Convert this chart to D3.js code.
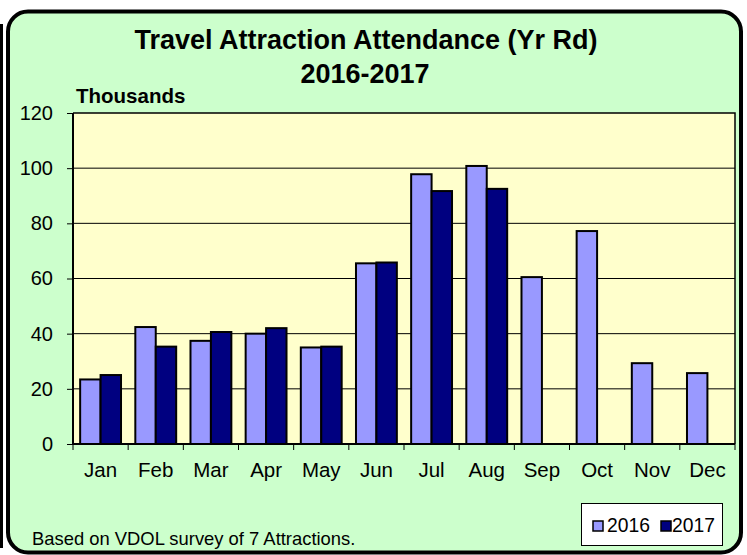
<!DOCTYPE html>
<html>
<head>
<meta charset="utf-8">
<script src="https://cdn.jsdelivr.net/npm/d3@7"></script>
<style>
  html, body { margin: 0; padding: 0; background: #fff; }
  svg { display: block; font-family: "Liberation Sans", Arial, sans-serif; }
</style>
</head>
<body>
<svg id="chart" width="747" height="555"></svg>
<script>
// Monthly attendance, thousands of visitors
const months = ["Jan", "Feb", "Mar", "Apr", "May", "Jun", "Jul", "Aug", "Sep", "Oct", "Nov", "Dec"];
const seriesNames = ["2016", "2017"];
const values2016 = [23.4, 42.4, 37.4, 40.0, 35.0, 65.5, 97.8, 100.8, 60.5, 77.2, 29.3, 25.7];
const values2017 = [25.0, 35.3, 40.6, 42.0, 35.3, 65.8, 91.7, 92.5, null, null, null, null];
const yTicks = [0, 20, 40, 60, 80, 100, 120];
const seriesColors = ["#9999FF", "#000080"];

const svg = d3.select("#chart");

// Left edge of a neighbouring frame
svg.append("path")
  .attr("d", "M1.5,24 L1.5,548")
  .attr("stroke", "#000").attr("stroke-width", 3).attr("fill", "none");

// Rounded chart frame
svg.append("rect")
  .attr("x", 8).attr("y", 11.5).attr("width", 733).attr("height", 541)
  .attr("rx", 20).attr("ry", 20)
  .attr("fill", "#CCFFCC").attr("stroke", "#000").attr("stroke-width", 4);

// Title
svg.append("text")
  .attr("x", 366).attr("y", 49)
  .attr("text-anchor", "middle")
  .attr("font-weight", "bold").attr("font-size", 27)
  .text("Travel Attraction Attendance (Yr Rd)");
svg.append("text")
  .attr("x", 365).attr("y", 82.5)
  .attr("text-anchor", "middle")
  .attr("font-weight", "bold").attr("font-size", 27)
  .text("2016-2017");

// Unit label
svg.append("text")
  .attr("x", 76).attr("y", 103)
  .attr("font-weight", "bold").attr("font-size", 20.5)
  .text("Thousands");

const plot = { left: 73, right: 735, top: 113, bottom: 444 };

const x0 = d3.scaleBand().domain(months).range([plot.left, plot.right]).padding(0);
const x1 = d3.scaleBand().domain(seriesNames).range([0, x0.bandwidth()])
  .paddingInner(0).paddingOuter(0.35);
const y = d3.scaleLinear().domain([0, 120]).range([plot.bottom, plot.top]);

// Plot area background
svg.append("rect")
  .attr("x", plot.left).attr("y", plot.top)
  .attr("width", plot.right - plot.left).attr("height", plot.bottom - plot.top)
  .attr("fill", "#FFFFCC");

// Horizontal gridlines
svg.append("g")
  .selectAll("line")
  .data(yTicks.filter(d => d > 0 && d < 120))
  .join("line")
  .attr("x1", plot.left).attr("x2", plot.right)
  .attr("y1", d => y(d)).attr("y2", d => y(d))
  .attr("stroke", "#000").attr("stroke-width", 1);

// Plot area border (top and right)
svg.append("path")
  .attr("d", `M${plot.left},${plot.top}H${plot.right}V${plot.bottom}`)
  .attr("fill", "none").attr("stroke", "#000").attr("stroke-width", 1.5);

// Bars
const rows = months.map((m, i) => ({ month: m, vals: [values2016[i], values2017[i]] }));
const groups = svg.append("g").selectAll("g")
  .data(rows).join("g")
  .attr("transform", d => `translate(${x0(d.month)},0)`);
groups.selectAll("rect")
  .data(d => d.vals.map((v, k) => ({ key: seriesNames[k], value: v, k })).filter(d => d.value != null))
  .join("rect")
  .attr("x", d => x1(d.key))
  .attr("width", x1.bandwidth())
  .attr("y", d => y(d.value))
  .attr("height", d => y(0) - y(d.value))
  .attr("fill", d => seriesColors[d.k])
  .attr("stroke", "#000").attr("stroke-width", 2);

// Y axis
const yAxis = svg.append("g")
  .attr("transform", `translate(${plot.left},0)`)
  .call(d3.axisLeft(y).tickValues(yTicks).tickSize(6).tickPadding(14).tickFormat(d3.format("d")));
yAxis.select(".domain").attr("stroke", "#000").attr("stroke-width", 2)
  .attr("d", `M0,${plot.top}V${plot.bottom}`);
yAxis.selectAll(".tick line").attr("stroke", "#000").attr("stroke-width", 1);
yAxis.selectAll(".tick text")
  .attr("font-size", 20).attr("fill", "#000")
  .attr("font-family", "\"Liberation Sans\", Arial, sans-serif");

// X axis: ticks at month boundaries, labels centred in each band
const xAxisG = svg.append("g");
xAxisG.append("line")
  .attr("x1", plot.left).attr("x2", plot.right)
  .attr("y1", plot.bottom).attr("y2", plot.bottom)
  .attr("stroke", "#000").attr("stroke-width", 2);
const boundaries = months.map(m => x0(m)).concat([plot.right]);
xAxisG.selectAll("line.tick")
  .data(boundaries).join("line")
  .attr("class", "tick")
  .attr("x1", d => d).attr("x2", d => d)
  .attr("y1", plot.bottom).attr("y2", plot.bottom + 6)
  .attr("stroke", "#000").attr("stroke-width", 1);
xAxisG.selectAll("text")
  .data(months).join("text")
  .attr("x", d => x0(d) + x0.bandwidth() / 2)
  .attr("y", 477)
  .attr("text-anchor", "middle")
  .attr("font-size", 20.5)
  .text(d => d);

// Footnote
svg.append("text")
  .attr("x", 32).attr("y", 545)
  .attr("font-size", 18.4)
  .text("Based on VDOL survey of 7 Attractions.");

// Legend
const legend = svg.append("g");
legend.append("rect")
  .attr("x", 581.5).attr("y", 503.5).attr("width", 141).attr("height", 42)
  .attr("fill", "#fff").attr("stroke", "#000").attr("stroke-width", 1);
const legendItems = [
  { name: seriesNames[0], color: seriesColors[0], sx: 593, tx: 607 },
  { name: seriesNames[1], color: seriesColors[1], sx: 661, tx: 672 }
];
legend.selectAll("rect.sw")
  .data(legendItems).join("rect")
  .attr("class", "sw")
  .attr("x", d => d.sx).attr("y", 521)
  .attr("width", 10).attr("height", 10)
  .attr("fill", d => d.color).attr("stroke", "#000").attr("stroke-width", 1.5);
legend.selectAll("text")
  .data(legendItems).join("text")
  .attr("x", d => d.tx).attr("y", 531.5)
  .attr("font-size", 19.3)
  .text(d => d.name);
</script>
</body>
</html>
